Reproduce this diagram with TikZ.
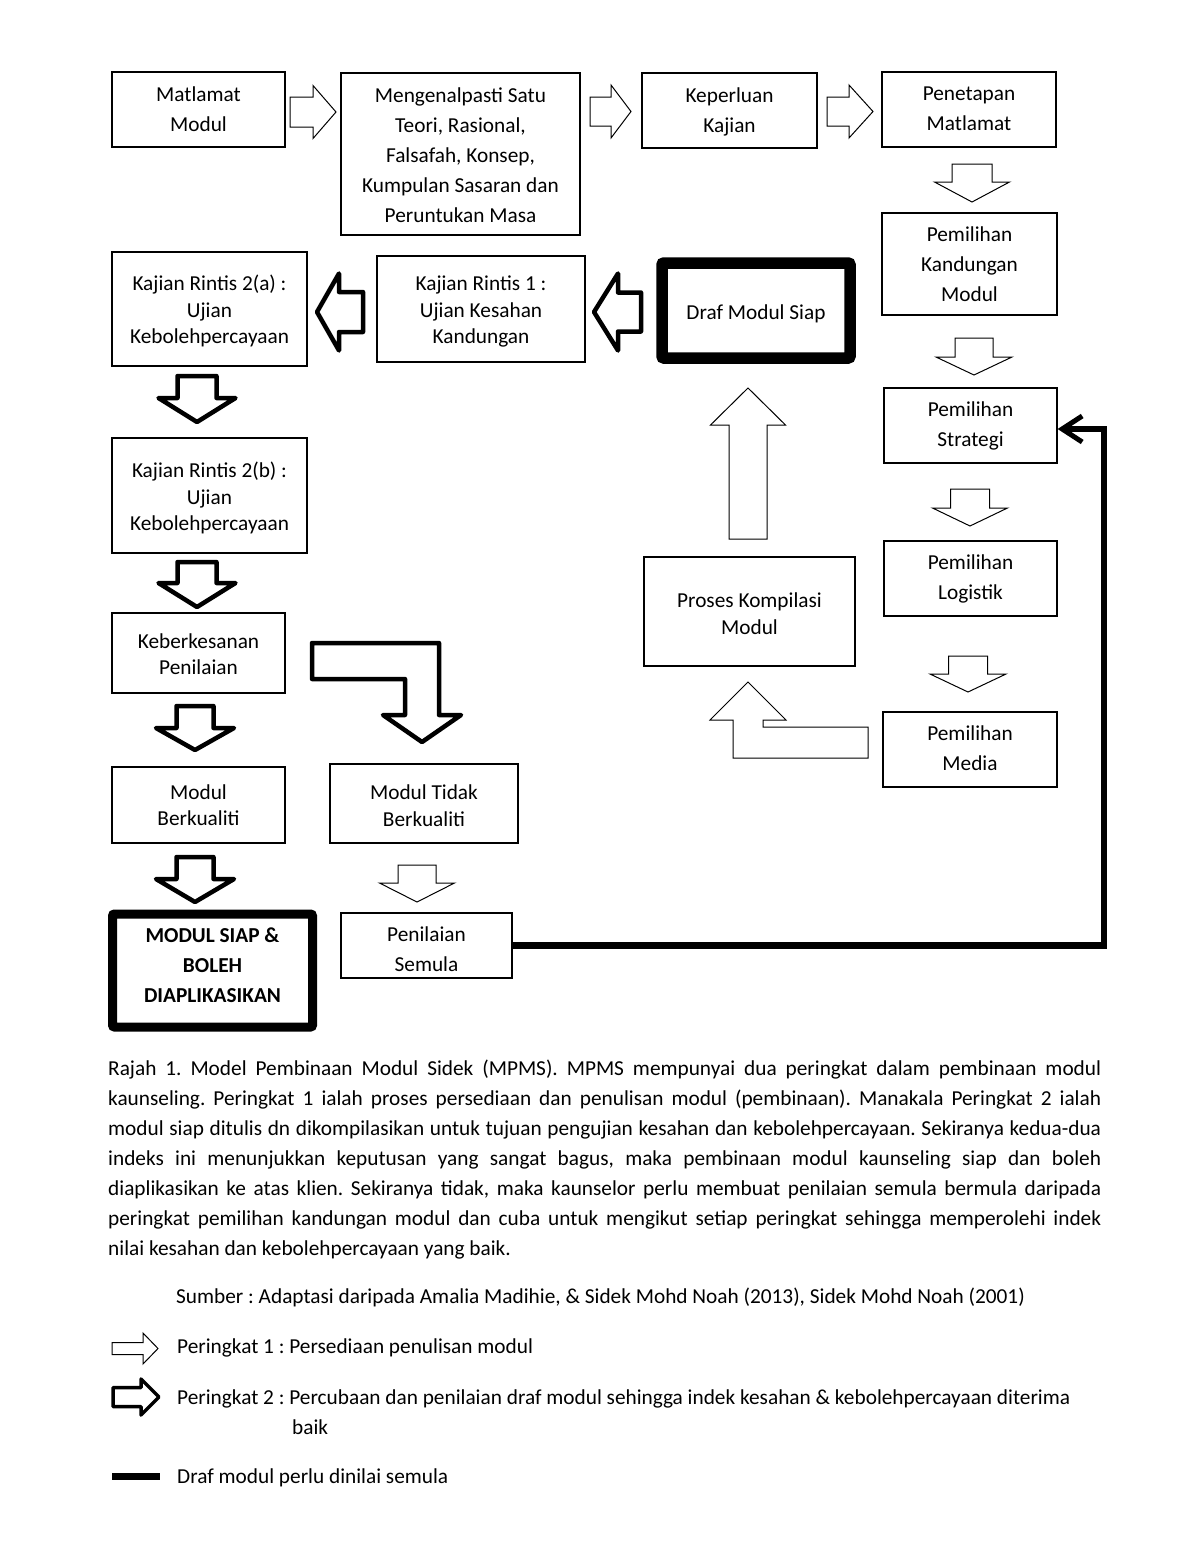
\documentclass[tikz,border=0pt]{standalone}
\usepackage{fontspec}
\setmainfont{Carlito}
\usepackage{tikz}
\usetikzlibrary{arrows.meta}
\frenchspacing

\newcommand{\hurufa}{\fontsize{21.3}{30}\selectfont}
\newcommand{\hurufb}{\fontsize{21.3}{26.5}\selectfont}
% block arrow: style, tip, angle, length, shaft half width, head half width, head length
\newcommand{\anakpanah}[7]{%
  \draw[#1, shift={#2}, rotate=#3] (0,0) -- (-#7,#6) -- (-#7,#5) -- (-#4,#5) -- (-#4,-#5) -- (-#7,-#5) -- (-#7,-#6) -- cycle;}

\tikzset{
  kotak/.style={draw, line width=1.2pt, inner sep=0pt},
  isi/.style={align=center, inner sep=0pt, font=\hurufa,
    execute at begin node=\strut, execute at end node=\strut},
  isib/.style={isi, font=\hurufb},
  nipis/.style={draw, line width=1pt, fill=white, line join=miter},
  tebal/.style={draw, line width=4.5pt, line join=round},
  balik/.style={line width=6.5pt, -{Straight Barb[length=20pt, width=26pt, line width=5pt]}},
  teks/.style={anchor=base west, inner sep=0pt, font=\hurufa}
}

\begin{document}
\begin{tikzpicture}[x=1pt, y=-1pt]
    \useasboundingbox (0,0) rectangle (1200,1553);

    % Peringkat 1 (top row and right column)
    \node[kotak, minimum width=173pt, minimum height=75pt] (matlamat) at (198.5,109.5) {};
    \node[isi, yshift=-4pt] (matlamatteks) at (matlamat.center) {Matlamat\\Modul};
    \node[kotak, minimum width=239pt, minimum height=162pt] (kenal) at (460.5,154) {};
    \node[isi, yshift=-6pt] (kenalteks) at (kenal.center) {Mengenalpasti Satu\\Teori, Rasional,\\Falsafah, Konsep,\\Kumpulan Sasaran dan\\Peruntukan Masa};
    \node[kotak, minimum width=175pt, minimum height=75pt] (keperluan) at (729.5,110.5) {};
    \node[isi, yshift=-4pt] (keperluanteks) at (keperluan.center) {Keperluan\\Kajian};
    \node[kotak, minimum width=174pt, minimum height=75pt] (penetapan) at (969,109.5) {};
    \node[isi, yshift=-4pt] (penetapanteks) at (penetapan.center) {Penetapan\\Matlamat};
    \node[kotak, minimum width=175pt, minimum height=102pt] (kandungan) at (969.5,264) {};
    \node[isi, yshift=-5pt] (kandunganteks) at (kandungan.center) {Pemilihan\\Kandungan\\Modul};
    \node[kotak, minimum width=173pt, minimum height=75pt] (strategi) at (970.5,425.5) {};
    \node[isi, yshift=-3pt] (strategiteks) at (strategi.center) {Pemilihan\\Strategi};
    \node[kotak, minimum width=173pt, minimum height=75pt] (logistik) at (970.5,578.5) {};
    \node[isi, yshift=-3pt] (logistikteks) at (logistik.center) {Pemilihan\\Logistik};
    \node[kotak, minimum width=174pt, minimum height=75pt] (media) at (970,749.5) {};
    \node[isi, yshift=-3pt] (mediateks) at (media.center) {Pemilihan\\Media};
    \node[kotak, minimum width=211pt, minimum height=109pt] (kompilasi) at (749.5,611.5) {};
    \node[isib, yshift=-6pt] (kompilasiteks) at (kompilasi.center) {Proses Kompilasi\\Modul};
    \node[kotak, minimum width=188pt, minimum height=95pt, line width=11.5pt, rounded corners=2pt] (draf) at (756,310.5) {};
    \node[isi, yshift=-3pt] (drafteks) at (draf.center) {Draf Modul Siap};

    \anakpanah{nipis}{(336,112)}{0}{46}{15}{26.5}{23}
    \anakpanah{nipis}{(631,111.5)}{0}{41}{14.5}{26.5}{20}
    \anakpanah{nipis}{(873,111.5)}{0}{46}{14.5}{26.5}{24}
    \anakpanah{nipis}{(972,202)}{-90}{38}{20}{37.5}{20}
    \anakpanah{nipis}{(974,375)}{-90}{37}{19}{38}{18}
    \anakpanah{nipis}{(970,526)}{-90}{37}{19.5}{37.5}{18}
    \anakpanah{nipis}{(968,692)}{-90}{36}{19.5}{38}{18}
    \anakpanah{nipis}{(748,388)}{90}{151}{19}{37.5}{37}
    \draw[nipis] (748,682) -- (786,720) -- (763,720) -- (763,727) -- (868,727) -- (868,758)
        -- (733,758) -- (733,720) -- (710,720) -- cycle;

    % Peringkat 2 (left column)
    \node[kotak, minimum width=208pt, minimum height=106pt] (rintis1) at (481,309) {};
    \node[isib, yshift=-5pt] (rintis1teks) at (rintis1.center) {Kajian Rintis 1 :\\Ujian Kesahan\\Kandungan};
    \node[kotak, minimum width=195pt, minimum height=114pt] (rintisa) at (209.5,309) {};
    \node[isib, yshift=-4.5pt] (rintisateks) at (rintisa.center) {Kajian Rintis 2(a) :\\Ujian\\Kebolehpercayaan};
    \node[kotak, minimum width=195pt, minimum height=115pt] (rintisb) at (209.5,495.5) {};
    \node[isib, yshift=-5pt] (rintisbteks) at (rintisb.center) {Kajian Rintis 2(b) :\\Ujian\\Kebolehpercayaan};
    \node[kotak, minimum width=173pt, minimum height=80pt] (berkesan) at (198.5,653) {};
    \node[isib, yshift=-5pt] (berkesanteks) at (berkesan.center) {Keberkesanan\\Penilaian};
    \node[kotak, minimum width=173pt, minimum height=76pt] (berkualiti) at (198.5,805) {};
    \node[isib, yshift=-4pt] (berkualititeks) at (berkualiti.center) {Modul\\Berkualiti};
    \node[kotak, minimum width=188pt, minimum height=79pt] (tidak) at (424,803.5) {};
    \node[isib, yshift=-6pt] (tidakteks) at (tidak.center) {Modul Tidak\\Berkualiti};
    \node[kotak, minimum width=200pt, minimum height=113pt, line width=9pt, rounded corners=2pt] (siap) at (212.5,970.5) {};
    \node[isi, font=\hurufa\bfseries, yshift=1pt] (siapteks) at (siap.center) {MODUL SIAP \&\\BOLEH\\DIAPLIKASIKAN};
    \node[kotak, minimum width=171pt, minimum height=65pt] (semula) at (426.5,945.5) {};
    \node[isi, yshift=-8pt] (semulateks) at (semula.center) {Penilaian\\Semula};

    \anakpanah{tebal}{(594,312)}{180}{47}{19.5}{38.5}{24}
    \anakpanah{tebal}{(317,312)}{180}{46}{20}{38.5}{22}
    \anakpanah{tebal}{(197,422)}{-90}{46}{19.5}{38.5}{24}
    \anakpanah{tebal}{(197,607)}{-90}{45}{19.5}{38.5}{24}
    \anakpanah{tebal}{(195,750)}{-90}{44}{18.5}{39}{22}
    \anakpanah{tebal}{(195,902)}{-90}{45}{18.5}{39}{23}
    \draw[tebal] (312,643) -- (439,643) -- (439,715) -- (461,715) -- (422,742) -- (383,715)
        -- (405,715) -- (405,679) -- (312,679) -- cycle;
    \anakpanah{nipis}{(417,902)}{-90}{37}{19}{37.5}{19}

    % Penilaian semula back to Pemilihan Strategi
    \coordinate (sudut) at (1104,429);
    \draw[balik] (semula.east) -| (sudut) -- (strategi.east |- sudut);

    % Caption
    \node[teks] (rajah) at (108,1075) {\parbox[t]{993pt}{\hurufa
      \makebox[993pt][s]{Rajah 1. Model Pembinaan Modul Sidek (MPMS). MPMS mempunyai dua peringkat dalam pembinaan modul}\\
      \makebox[993pt][s]{kaunseling. Peringkat 1 ialah proses persediaan dan penulisan modul (pembinaan). Manakala Peringkat 2 ialah}\\
      \makebox[993pt][s]{modul siap ditulis dn dikompilasikan untuk tujuan pengujian kesahan dan kebolehpercayaan. Sekiranya kedua-dua}\\
      \makebox[993pt][s]{indeks ini menunjukkan keputusan yang sangat bagus, maka pembinaan modul kaunseling siap dan boleh}\\
      \makebox[993pt][s]{diaplikasikan ke atas klien. Sekiranya tidak, maka kaunselor perlu membuat penilaian semula bermula daripada}\\
      \makebox[993pt][s]{peringkat pemilihan kandungan modul dan cuba untuk mengikut setiap peringkat sehingga memperolehi indek}\\
      nilai kesahan dan kebolehpercayaan yang baik.}};
    \node[teks] (sumber) at (176,1303) {Sumber : Adaptasi daripada Amalia Madihie, \& Sidek Mohd Noah (2013), Sidek Mohd Noah (2001)};

    % Legend
    \anakpanah{nipis}{(158,1348.5)}{0}{46}{6}{15.5}{15}
    \node[teks] (p1) at (177,1353) {Peringkat 1 : Persediaan penulisan modul};
    \anakpanah{tebal, line width=3.5pt}{(159,1397)}{0}{46}{9.5}{18}{18}
    \node[teks] (p2) at (177,1404) {Peringkat 2 : Percubaan dan penilaian draf modul sehingga indek kesahan \& kebolehpercayaan diterima};
    \node[teks] (p2b) at (292,1434) {baik};
    \draw[line width=7pt] (112,1476) -- (160,1476);
    \node[teks] (p3) at (177,1483) {Draf modul perlu dinilai semula};
\end{tikzpicture}
\end{document}
